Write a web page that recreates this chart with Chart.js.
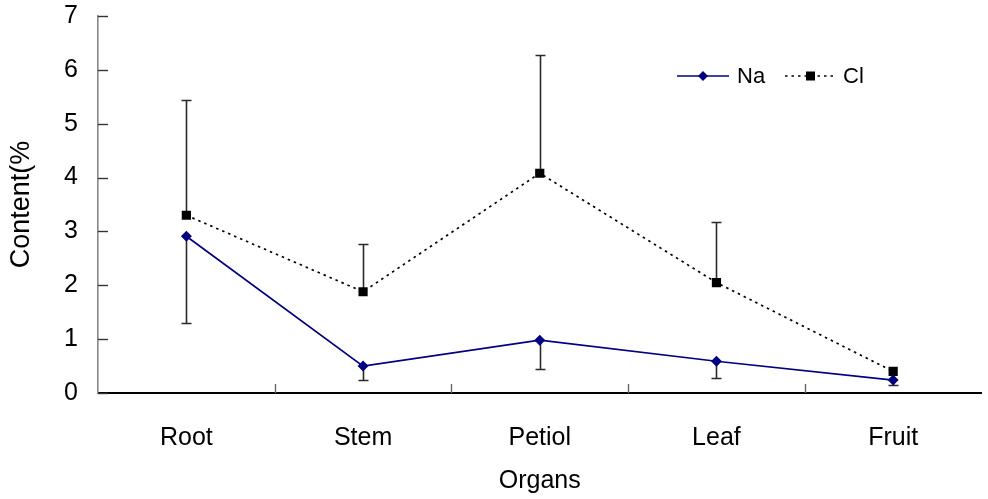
<!DOCTYPE html>
<html>
<head>
<meta charset="utf-8">
<script src="https://cdn.jsdelivr.net/npm/chart.js@4.4.0/dist/chart.umd.min.js"></script>
<style>
  html, body { margin: 0; padding: 0; background: #fff; }
  #wrap { width: 988px; height: 499px; position: relative; }
</style>
</head>
<body>
<div id="wrap"><canvas id="chart"></canvas></div>
<script>
// organs along the x axis
var organs = ['Root', 'Stem', 'Petiol', 'Leaf', 'Fruit']
// mean content (%)
var naValues = [2.91, 0.50, 0.98, 0.59, 0.24]
var clValues = [3.30, 1.88, 4.08, 2.05, 0.40]
// error bar ends: Na drawn downward, Cl drawn upward
var naErrLow = [1.30, 0.24, 0.45, 0.28, 0.14]
var clErrHigh = [5.44, 2.76, 6.27, 3.17, 0.40]
var yTicks = [0, 1, 2, 3, 4, 5, 6, 7]

var naColor = '#000080'
var font = '"Liberation Sans", Arial, sans-serif'

// error bars behind the markers
var errorBars = {
  id: 'errorBars',
  beforeDatasetsDraw: function (chart) {
    var ctx = chart.ctx
    var x = chart.scales.x
    var y = chart.scales.y
    ctx.save()
    ctx.strokeStyle = '#2a2a2a'
    ctx.lineWidth = 1.6
    function bar(i, from, to) {
      var px = Math.round(x.getPixelForValue(i)) + 0.5
      var y0 = y.getPixelForValue(from)
      var y1 = Math.round(y.getPixelForValue(to)) + 0.5
      if (Math.abs(y1 - y0) < 1) return
      ctx.beginPath()
      ctx.moveTo(px, y0)
      ctx.lineTo(px, y1)
      ctx.moveTo(px - 5, y1)
      ctx.lineTo(px + 5, y1)
      ctx.stroke()
    }
    organs.forEach(function (o, i) {
      bar(i, naValues[i], naErrLow[i])
      bar(i, clValues[i], clErrHigh[i])
    })
    ctx.restore()
  }
}

// inward tick marks on both axes
var innerTicks = {
  id: 'innerTicks',
  afterDraw: function (chart) {
    var ctx = chart.ctx
    var x = chart.scales.x
    var y = chart.scales.y
    var area = chart.chartArea
    ctx.save()
    ctx.strokeStyle = '#333'
    ctx.lineWidth = 1.4
    yTicks.forEach(function (v) {
      var py = Math.round(y.getPixelForValue(v)) + 0.5
      ctx.beginPath()
      ctx.moveTo(area.left, py)
      ctx.lineTo(area.left + 10, py)
      ctx.stroke()
    })
    ctx.strokeStyle = '#666'
    for (var i = 0; i < organs.length - 1; i++) {
      var px = Math.round((x.getPixelForValue(i) + x.getPixelForValue(i + 1)) / 2) + 0.5
      ctx.beginPath()
      ctx.moveTo(px, area.bottom)
      ctx.lineTo(px, area.bottom - 9)
      ctx.stroke()
    }
    ctx.restore()
  }
}

// legend drawn like the original: line with marker in the middle
var lineLegend = {
  id: 'lineLegend',
  afterDraw: function (chart) {
    var ctx = chart.ctx
    var ly = 76
    ctx.save()
    ctx.lineWidth = 1.6
    ctx.strokeStyle = naColor
    ctx.beginPath()
    ctx.moveTo(677, ly)
    ctx.lineTo(729, ly)
    ctx.stroke()
    ctx.fillStyle = naColor
    ctx.beginPath()
    ctx.moveTo(703, ly - 5)
    ctx.lineTo(708, ly)
    ctx.lineTo(703, ly + 5)
    ctx.lineTo(698, ly)
    ctx.closePath()
    ctx.fill()

    ctx.strokeStyle = '#000'
    ctx.setLineDash([2.5, 4])
    ctx.beginPath()
    ctx.moveTo(785, ly)
    ctx.lineTo(833, ly)
    ctx.stroke()
    ctx.setLineDash([])
    ctx.fillStyle = '#000'
    ctx.fillRect(806, ly - 4.5, 9, 9)

    ctx.font = '22px ' + font
    ctx.textBaseline = 'middle'
    ctx.fillText('Na', 737, ly + 1)
    ctx.fillText('Cl', 843, ly + 1)
    ctx.restore()
  }
}

var ctx = document.getElementById('chart').getContext('2d')
var chart = new Chart(ctx, {
  type: 'line',
  data: {
    labels: organs,
    datasets: [
      {
        label: 'Na',
        data: naValues,
        borderColor: naColor,
        backgroundColor: naColor,
        borderWidth: 1.7,
        pointStyle: 'rectRot',
        pointRadius: 5.5,
        pointBorderWidth: 0,
        tension: 0,
      },
      {
        label: 'Cl',
        data: clValues,
        borderColor: '#000',
        backgroundColor: '#000',
        borderWidth: 1.7,
        borderDash: [2.5, 4],
        pointStyle: 'rect',
        pointRadius: 6.5,
        pointBorderWidth: 0,
        tension: 0,
      },
    ],
  },
  options: {
    responsive: true,
    maintainAspectRatio: false,
    animation: false,
    layout: { padding: { top: 16, right: 0, left: 0, bottom: 0 } },
    plugins: {
      legend: { display: false },
      tooltip: { enabled: false },
    },
    scales: {
      x: {
        offset: true,
        grid: { display: false, drawTicks: false },
        border: { display: true, color: '#000', width: 2 },
        ticks: {
          color: '#000',
          padding: 30,
          font: { family: font, size: 25 },
        },
        title: {
          display: true,
          text: 'Organs',
          color: '#000',
          padding: { top: 0, bottom: 3 },
          font: { family: font, size: 25 },
        },
        afterFit: function (s) {
          s.height = 106
          s.paddingLeft = 0
          s.paddingRight = 0
        },
      },
      y: {
        min: 0,
        max: 7,
        afterBuildTicks: function (s) {
          s.ticks = yTicks.map(function (v) { return { value: v } })
        },
        grid: { display: false, drawTicks: false },
        border: { display: true, color: '#888', width: 1.6 },
        ticks: {
          color: '#000',
          padding: 20,
          font: { family: font, size: 25 },
        },
        title: {
          display: true,
          text: 'Content(%',
          color: '#000',
          padding: { top: 5, bottom: 0 },
          font: { family: font, size: 27 },
        },
        afterFit: function (s) {
          s.width = 98
          s.paddingTop = 0
          s.paddingBottom = 0
        },
      },
    },
  },
  plugins: [errorBars, innerTicks, lineLegend],
})
</script>
</body>
</html>
